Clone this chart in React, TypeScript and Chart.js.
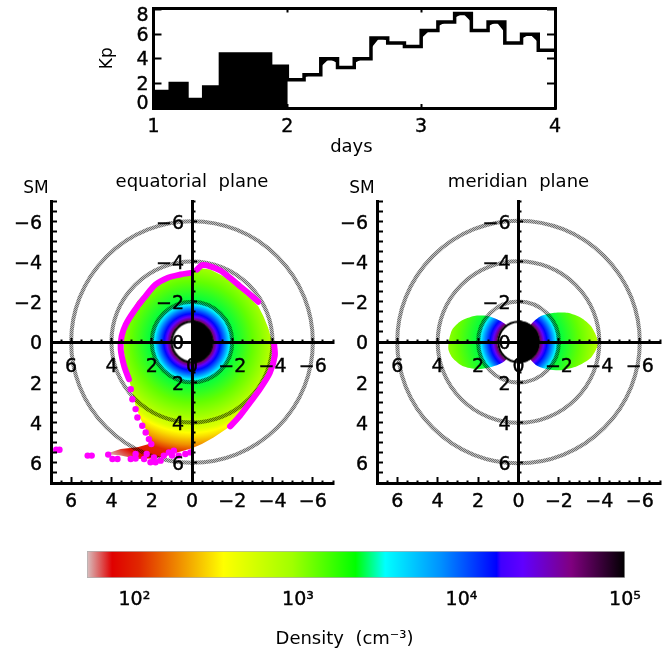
import React, { useEffect, useRef } from "react";
import { Chart, registerables } from "chart.js";

Chart.register(...registerables);

const FONT = "'DejaVu Sans', sans-serif";

// Kp index, one value per 3-hour bin from day 1 to day 4
const kpValues = [1.35, 2.0, 0.7, 1.7, 4.4, 4.4, 4.4, 3.4, 2.3, 2.7, 4.0, 3.3, 4.0, 5.7, 5.3, 5.0, 6.3, 7.0, 7.7, 6.3, 7.0, 5.3, 6.0, 4.7];

// colour table of the density bar
const barDensities = [51.3, 73, 107, 190, 350, 925, 2250, 3420, 7500, 16400, 17400, 23700, 46800, 100000];
const barColors = ["#d8c0c0", "#e00000", "#e02800", "#f09000", "#ffff00", "#a0ff00", "#00ff00", "#00ffff", "#0090ff", "#0000ff", "#4000ff", "#6000ff", "#800080", "#000000"];
const densityTicks = [100, 1000, 10000, 100000];
const densityTickLabels = ["10²", "10³", "10⁴", "10⁵"];

// radial density profile
const profileRadii = [1.0, 1.1, 1.25, 1.4, 1.65, 1.85, 2.05, 3.0, 3.7, 4.3, 4.5, 4.7, 5.1, 5.5, 6.2, 6.97];
const profileDensities = [100000, 50000, 24000, 16000, 8000, 3800, 2500, 1300, 900, 500, 350, 290, 190, 107, 85, 51.3];

// reference circles and Earth, in units of Earth radii
const ringRadii = [2, 4, 6];
const earthRadius = 1.05;

// equatorial plane: outline of the filled plasmasphere and plume
const equatorialX = [-0.25, -0.9, -1.56, -2.22, -2.88, -3.29, -3.54, -3.78, -3.95, -3.98, -3.87, -3.45, -2.96, -2.38, -1.81, -1.07, -0.49, 0, 0.74, 1.4, 2.06, 2.71, 3.54, 4.28, 3.54, 2.71, 2.14, 2.06, 2.3, 2.55, 2.8, 2.96, 3.13, 3.29, 3.4, 3.37, 3.13, 2.71, 2.14, 1.4, 0.74, 0, -0.25];
const equatorialY = [-3.68, -3.6, -3.27, -2.77, -2.19, -1.78, -1.29, -0.71, -0.13, 0.36, 1.19, 2.1, 2.92, 3.66, 4.24, 4.74, 5.07, 5.28, 5.48, 5.68, 5.78, 5.81, 5.64, 5.56, 5.31, 5.23, 5.07, 4.82, 4.32, 3.83, 3.17, 2.51, 1.85, 1.19, 0.36, -0.46, -1.29, -2.03, -2.61, -3.02, -3.23, -3.4, -3.68];

// equatorial plane: plasmapause markers, continuous stretches
const pauseTopRightX = [-0.25, -0.49, -0.9, -1.4, -1.89, -2.38, -2.88, -3.29];
const pauseTopRightY = [-3.6, -3.81, -3.76, -3.55, -3.18, -2.77, -2.36, -2.0];
const pauseLeftX = [0.08, 0.58, 1.23, 1.81, 2.38, 2.88, 3.29, 3.49, 3.54, 3.37, 3.13];
const pauseLeftY = [-3.43, -3.35, -3.18, -2.85, -2.19, -1.53, -0.87, -0.3, 0.36, 1.19, 1.85];
const pauseRightX = [-4.08, -4.11, -3.87, -3.37, -2.88, -2.38, -1.89];
const pauseRightY = [0.12, 0.69, 1.52, 2.34, 3.0, 3.66, 4.19];

// equatorial plane: separate plasmapause markers
const pauseDotsX = [3.04, 2.96, 2.8, 2.71, 2.47, 2.3, 2.14, 2.02, 2.25, 6.74, 6.58, 5.18, 4.98, 4.16, 3.95, 3.7, 3.04, 2.8, 2.8, 2.38, 2.06, 1.81, 1.56, 1.89, 1.4, 1.15, 0.9, 0.99, 0.66, 0.33, 0.08];
const pauseDotsY = [2.34, 2.84, 3.33, 3.75, 4.16, 4.49, 4.82, 5.07, 5.56, 5.35, 5.35, 5.64, 5.64, 5.59, 5.81, 5.81, 5.81, 5.78, 5.56, 5.81, 5.97, 5.97, 5.89, 5.73, 5.64, 5.48, 5.4, 5.64, 5.64, 5.56, 5.48];

// meridian plane: outlines of the two lobes
const lobeLeftX = [0, 0.63, 1.04, 1.53, 2.19, 2.85, 3.27, 3.43, 3.47, 3.27, 2.77, 2.03, 1.45, 0.96, 0.63, 0];
const lobeLeftY = [0, -0.87, -1.12, -1.29, -1.29, -1.04, -0.63, -0.13, 0.36, 0.78, 1.19, 1.35, 1.27, 1.11, 0.89, 0];
const lobeRightX = [0, -0.61, -1.11, -1.77, -2.43, -3.09, -3.58, -3.88, -3.91, -3.58, -2.92, -2.1, -1.44, -0.94, -0.61, 0];
const lobeRightY = [0, -0.87, -1.29, -1.45, -1.45, -1.2, -0.79, -0.21, 0.2, 0.78, 1.19, 1.4, 1.35, 1.19, 0.89, 0];

const zip = (xs: number[], ys: number[]) => xs.map((x, i) => ({ x, y: ys[i] }));

function hexToRgb(h: string) {
  return [parseInt(h.slice(1, 3), 16), parseInt(h.slice(3, 5), 16), parseInt(h.slice(5, 7), 16)];
}

function colorFor(density: number) {
  const l = Math.log10(density);
  const logs = barDensities.map((d) => Math.log10(d));
  if (l <= logs[0]) return barColors[0];
  for (let i = 1; i < logs.length; i++) {
    if (l <= logs[i]) {
      const t = (l - logs[i - 1]) / (logs[i] - logs[i - 1]);
      const a = hexToRgb(barColors[i - 1]);
      const b = hexToRgb(barColors[i]);
      return `rgb(${a.map((v, k) => Math.round(v + (b[k] - v) * t)).join(",")})`;
    }
  }
  return barColors[barColors.length - 1];
}

function radialFill(ctx: any) {
  const chart = ctx.chart;
  const sx = chart.scales.x;
  const sy = chart.scales.y;
  if (!sx || !sy || !chart.chartArea) return "transparent";
  const cx = sx.getPixelForValue(0);
  const cy = sy.getPixelForValue(0);
  const rMax = profileRadii[profileRadii.length - 1];
  const rPx = rMax * Math.abs(sx.getPixelForValue(1) - cx);
  const g = chart.ctx.createRadialGradient(cx, cy, 0, cx, cy, rPx);
  profileRadii.forEach((r, i) => g.addColorStop(r / rMax, colorFor(profileDensities[i])));
  g.addColorStop(0, "#000000");
  return g;
}

function densityBarFill(ctx: any) {
  const chart = ctx.chart;
  const sx = chart.scales.x;
  if (!sx || !chart.chartArea) return "transparent";
  const g = chart.ctx.createLinearGradient(sx.left, 0, sx.right, 0);
  barDensities.forEach((d, i) => {
    const f = (sx.getPixelForValue(d) - sx.left) / (sx.right - sx.left);
    g.addColorStop(Math.min(1, Math.max(0, f)), barColors[i]);
  });
  return g;
}

const isEven = (v: number) => Math.abs(v % 2) < 1e-9;
const signed = (v: number) => (!isEven(v) ? "" : v < 0 ? `−${Math.abs(v)}` : `${Math.abs(v)}`);

const noPadding = (s: any) => {
  s.paddingLeft = 0;
  s.paddingRight = 0;
  s.paddingTop = 0;
  s.paddingBottom = 0;
};

function panelAxis(extra: any) {
  return {
    type: "linear",
    min: -7,
    max: 7,
    border: { display: true, color: "#000", width: 3, z: 1 },
    grid: {
      z: 1,
      drawOnChartArea: false,
      drawTicks: true,
      tickLength: -6,
      tickColor: "#000",
      tickWidth: 2,
      tickBorderDash: (c: any) => (c.tick && isEven(c.tick.value) ? [] : [4.5, 60]),
    },
    ...extra,
  };
}

function axisTicks(padding: number) {
  return {
    z: 1,
    stepSize: 0.5,
    autoSkip: false,
    maxRotation: 0,
    minRotation: 0,
    includeBounds: false,
    color: "#000",
    textStrokeColor: "#000",
    textStrokeWidth: 0.4,
    font: { family: FONT, size: 19 },
    padding,
    callback: (v: number) => signed(v),
  };
}

function ringDatasets(pattern: any) {
  return ringRadii.map((r) => ({
    data: [{ x: 0, y: 0 }],
    order: 5,
    showLine: false,
    pointStyle: "circle",
    pointBackgroundColor: "rgba(0,0,0,0)",
    pointBorderColor: pattern,
    pointBorderWidth: 4,
    pointRadius: (c: any) => {
      const s = c.chart.scales.x;
      return r * Math.abs(s.getPixelForValue(1) - s.getPixelForValue(0));
    },
  }));
}

function polygon(data: any[], tension = 0) {
  return {
    data,
    order: 9,
    showLine: true,
    tension,
    fill: "shape",
    borderWidth: 0,
    pointRadius: 0,
    backgroundColor: radialFill,
  };
}

function pauseLine(xs: number[], ys: number[]) {
  return {
    data: zip(xs, ys),
    order: 4,
    showLine: true,
    tension: 0.3,
    borderColor: "#ff00ff",
    borderWidth: 6,
    borderCapStyle: "round",
    borderJoinStyle: "round",
    pointRadius: 0,
  };
}

function earthDataset(sprite: HTMLCanvasElement) {
  return {
    data: [{ x: 0, y: 0 }],
    order: 1,
    showLine: false,
    pointStyle: sprite,
    pointRadius: sprite.width / 2,
  };
}

function makeEarthSprite() {
  const R = earthRadius * 20.14;
  const c = document.createElement("canvas");
  c.width = c.height = Math.ceil(2 * R + 2);
  const g = c.getContext("2d")!;
  const m = c.width / 2;
  g.fillStyle = "#fff";
  g.beginPath();
  g.arc(m, m, R, 0, Math.PI * 2);
  g.fill();
  g.fillStyle = "#000";
  g.beginPath();
  g.arc(m, m, R, -Math.PI / 2, Math.PI / 2);
  g.fill();
  g.strokeStyle = "#000";
  g.lineWidth = 2;
  g.beginPath();
  g.arc(m, m, R - 1, 0, Math.PI * 2);
  g.stroke();
  return c;
}

function makeHatch(ctx: CanvasRenderingContext2D) {
  const c = document.createElement("canvas");
  c.width = c.height = 2;
  const g = c.getContext("2d")!;
  g.fillStyle = "rgba(0,0,0,0.25)";
  g.fillRect(0, 0, 2, 2);
  g.fillStyle = "rgba(0,0,0,0.42)";
  g.fillRect(0, 0, 1, 1);
  g.fillRect(1, 1, 1, 1);
  return ctx.createPattern(c, "repeat");
}

function shiftLabelsPlugin(shifts: Record<string, (item: any, i: number) => [number, number]>) {
  return {
    id: "shiftLabels",
    beforeDraw(chart: any) {
      Object.keys(shifts).forEach((id) => {
        const scale = chart.scales[id];
        if (!scale) return;
        scale.getLabelItems(chart.chartArea).forEach((item: any, i: number) => {
          if (item.__shifted) return;
          const [dx, dy] = shifts[id](item, i);
          item.options.translation = [item.options.translation[0] + dx, item.options.translation[1] + dy];
          item.__shifted = true;
        });
      });
    },
  };
}

function smLabel(x: number, y: number) {
  return {
    id: "smLabel",
    afterDraw(chart: any) {
      const c = chart.ctx;
      c.save();
      c.font = `17px ${FONT}`;
      c.fillStyle = "#000";
      c.textAlign = "center";
      c.textBaseline = "middle";
      c.fillText("SM", x, y);
      c.restore();
    },
  };
}

function panelOptions(title: string, leftWidth: number, rightWidth: number): any {
  const TOP = 31;
  const BOTTOM = 37;
  return {
    responsive: false,
    animation: false,
    devicePixelRatio: 1,
    events: [],
    layout: { autoPadding: false, padding: { right: rightWidth } },
    plugins: {
      legend: { display: false },
      tooltip: { enabled: false },
      title: {
        display: true,
        text: title,
        fullSize: false,
        color: "#000",
        font: { family: FONT, size: 18, weight: "normal", lineHeight: 1 },
        padding: { top: 3, bottom: TOP - 21 },
      },
    },
    scales: {
      x: panelAxis({
        reverse: true,
        position: "bottom",
        ticks: axisTicks(14),
        afterFit: (s: any) => { s.height = BOTTOM; noPadding(s); },
      }),
      y: panelAxis({
        reverse: true,
        position: "left",
        ticks: axisTicks(15),
        afterFit: (s: any) => { s.width = leftWidth; noPadding(s); },
      }),
      xc: panelAxis({ axis: "x", reverse: true, position: { y: 0 }, ticks: axisTicks(20), afterFit: (s: any) => { s.height = 0; noPadding(s); } }),
      yc: panelAxis({ axis: "y", reverse: true, position: { x: 0 }, ticks: axisTicks(0), afterFit: (s: any) => { s.width = 0; noPadding(s); } }),
    },
  };
}

const kpSteps = () => [...kpValues.map((v, i) => ({ x: 1 + i / 8, y: v })), { x: 4, y: kpValues[kpValues.length - 1] }];
const kpMidline = () => [
  { x: 2, y: kpValues[8] },
  ...kpValues.slice(8).map((v, i) => ({ x: 2 + (i + 0.5) / 8, y: v })),
  { x: 4, y: kpValues[kpValues.length - 1] },
];

export default function App() {
  const kpRef = useRef<HTMLCanvasElement>(null);
  const eqRef = useRef<HTMLCanvasElement>(null);
  const meRef = useRef<HTMLCanvasElement>(null);
  const barRef = useRef<HTMLCanvasElement>(null);

  useEffect(() => {
    const charts: Chart[] = [];
    const hatch = makeHatch(eqRef.current!.getContext("2d")!);
    const hatch2 = makeHatch(meRef.current!.getContext("2d")!);
    const sprite = makeEarthSprite();

    const boxAxis = (extra: any) => ({
      border: { display: true, color: "#000", width: 3, z: 1 },
      grid: { z: 1, drawOnChartArea: false, drawTicks: true, tickColor: "#000", tickWidth: 2, tickLength: -8 },
      ...extra,
    });

    charts.push(
      new Chart(kpRef.current!, {
        type: "scatter",
        data: {
          datasets: [
            { data: kpSteps(), order: 1, showLine: true, stepped: true, borderColor: "#000", borderWidth: 3.5, pointRadius: 0, fill: false },
            { data: kpMidline(), order: 2, showLine: true, borderWidth: 0, pointRadius: 0, backgroundColor: "#fff", fill: "origin" },
            { data: kpSteps(), order: 3, showLine: true, stepped: true, borderWidth: 0, pointRadius: 0, backgroundColor: "#000", fill: "origin" },
          ],
        },
        options: {
          responsive: false,
          animation: false,
          devicePixelRatio: 1,
          events: [],
          layout: { autoPadding: false },
          plugins: { legend: { display: false }, tooltip: { enabled: false } },
          scales: {
            x: boxAxis({
              type: "linear",
              min: 1,
              max: 4,
              position: "bottom",
              grid: { z: 1, drawOnChartArea: false, drawTicks: true, tickColor: "#000", tickWidth: 2, tickLength: -4 },
              ticks: { stepSize: 1, color: "#000", textStrokeColor: "#000", textStrokeWidth: 0.4, padding: 12, maxRotation: 0, font: { family: FONT, size: 19 } },
              title: { display: true, text: "days ", color: "#000", font: { family: FONT, size: 18 }, padding: 0 },
              afterFit: (s: any) => { s.height = 50; noPadding(s); },
            }),
            y: boxAxis({
              type: "linear",
              min: 0,
              max: 8.1,
              position: "left",
              ticks: { stepSize: 2, autoSkip: false, includeBounds: false, color: "#000", textStrokeColor: "#000", textStrokeWidth: 0.4, padding: 13, font: { family: FONT, size: 19 } },
              title: { display: true, text: "Kp", color: "#000", font: { family: FONT, size: 17 }, padding: 0 },
              afterFit: (s: any) => { s.width = 56.5; noPadding(s); },
            }),
            xt: boxAxis({
              type: "linear",
              axis: "x",
              min: 1,
              max: 4,
              position: "top",
              grid: { z: 1, drawOnChartArea: false, drawTicks: true, tickColor: "#000", tickWidth: 2, tickLength: -4 },
              ticks: { stepSize: 1, display: false },
              afterFit: (s: any) => { s.height = 8.5; noPadding(s); },
            }),
            yr: boxAxis({
              type: "linear",
              axis: "y",
              min: 0,
              max: 8.1,
              position: "right",
              ticks: { stepSize: 2, includeBounds: false, display: false },
              afterFit: (s: any) => { s.width = 45; noPadding(s); },
            }),
          },
        },
        plugins: [
          shiftLabelsPlugin({
            y: (item) => {
              const t = item.label;
              return [0, t === "0" ? -3.5 : t === "8" ? 6 : 1.5];
            },
          }),
        ],
      } as any)
    );

    const labelGap = {
      yc: () => [-8, 2.5] as [number, number],
      y: () => [0, 2.5] as [number, number],
    };

    charts.push(
      new Chart(eqRef.current!, {
        type: "scatter",
        data: {
          datasets: [
            polygon(zip(equatorialX, equatorialY)),
            ...ringDatasets(hatch),
            pauseLine(pauseTopRightX, pauseTopRightY),
            pauseLine(pauseLeftX, pauseLeftY),
            pauseLine(pauseRightX, pauseRightY),
            { data: zip(pauseDotsX, pauseDotsY), order: 4, showLine: false, pointStyle: "circle", pointBackgroundColor: "#ff00ff", pointBorderWidth: 0, pointRadius: 3.2 },
            earthDataset(sprite),
          ],
        },
        options: panelOptions("equatorial  plane", 51, 7),
        plugins: [shiftLabelsPlugin(labelGap), smLabel(36, 19)],
      } as any)
    );

    charts.push(
      new Chart(meRef.current!, {
        type: "scatter",
        data: {
          datasets: [
            polygon(zip(lobeLeftX, lobeLeftY), 0.25),
            polygon(zip(lobeRightX, lobeRightY), 0.25),
            ...ringDatasets(hatch2),
            earthDataset(sprite),
          ],
        },
        options: panelOptions("meridian  plane", 37, 7),
        plugins: [shiftLabelsPlugin(labelGap), smLabel(22, 19)],
      } as any)
    );

    charts.push(
      new Chart(barRef.current!, {
        type: "bar",
        data: {
          labels: ["Density"],
          datasets: [
            {
              data: [[barDensities[0], barDensities[barDensities.length - 1]]],
              backgroundColor: densityBarFill,
              borderColor: "#b0b0b0",
              borderWidth: 1,
              borderSkipped: false,
              barPercentage: 1,
              categoryPercentage: 1,
            },
          ],
        },
        options: {
          indexAxis: "y",
          responsive: false,
          animation: false,
          devicePixelRatio: 1,
          events: [],
          layout: { padding: { top: 6, left: 27, right: 42 } },
          plugins: { legend: { display: false }, tooltip: { enabled: false } },
          scales: {
            y: { display: false },
            x: {
              type: "logarithmic",
              min: barDensities[0],
              max: barDensities[barDensities.length - 1],
              border: { display: false },
              grid: { display: false },
              afterBuildTicks: (s: any) => { s.ticks = densityTicks.map((value) => ({ value })); },
              ticks: {
                autoSkip: false,
                maxRotation: 0,
                color: "#000",
                textStrokeColor: "#000",
                textStrokeWidth: 0.4,
                padding: 3,
                font: { family: FONT, size: 19 },
                callback: (v: number) => densityTickLabels[densityTicks.indexOf(v)] ?? "",
              },
              title: { display: true, text: "Density  (cm⁻³)    ", color: "#000", font: { family: FONT, size: 18 }, padding: 0 },
              afterFit: (s: any) => { s.height = 72; },
            },
          },
        },
      } as any)
    );

    return () => charts.forEach((c) => c.destroy());
  }, []);

  const abs = (left: number, top: number): React.CSSProperties => ({ position: "absolute", left, top });

  return (
    <div style={{ position: "absolute", left: 0, top: 0, width: 667, height: 653, background: "#fff", overflow: "hidden" }}>
      <canvas ref={kpRef} width={503} height={158} style={abs(97, 0)} />
      <canvas ref={eqRef} width={340} height={350} style={abs(0, 170)} />
      <canvas ref={meRef} width={327} height={350} style={abs(340, 170)} />
      <canvas ref={barRef} width={607} height={105} style={abs(60, 545)} />
    </div>
  );
}
